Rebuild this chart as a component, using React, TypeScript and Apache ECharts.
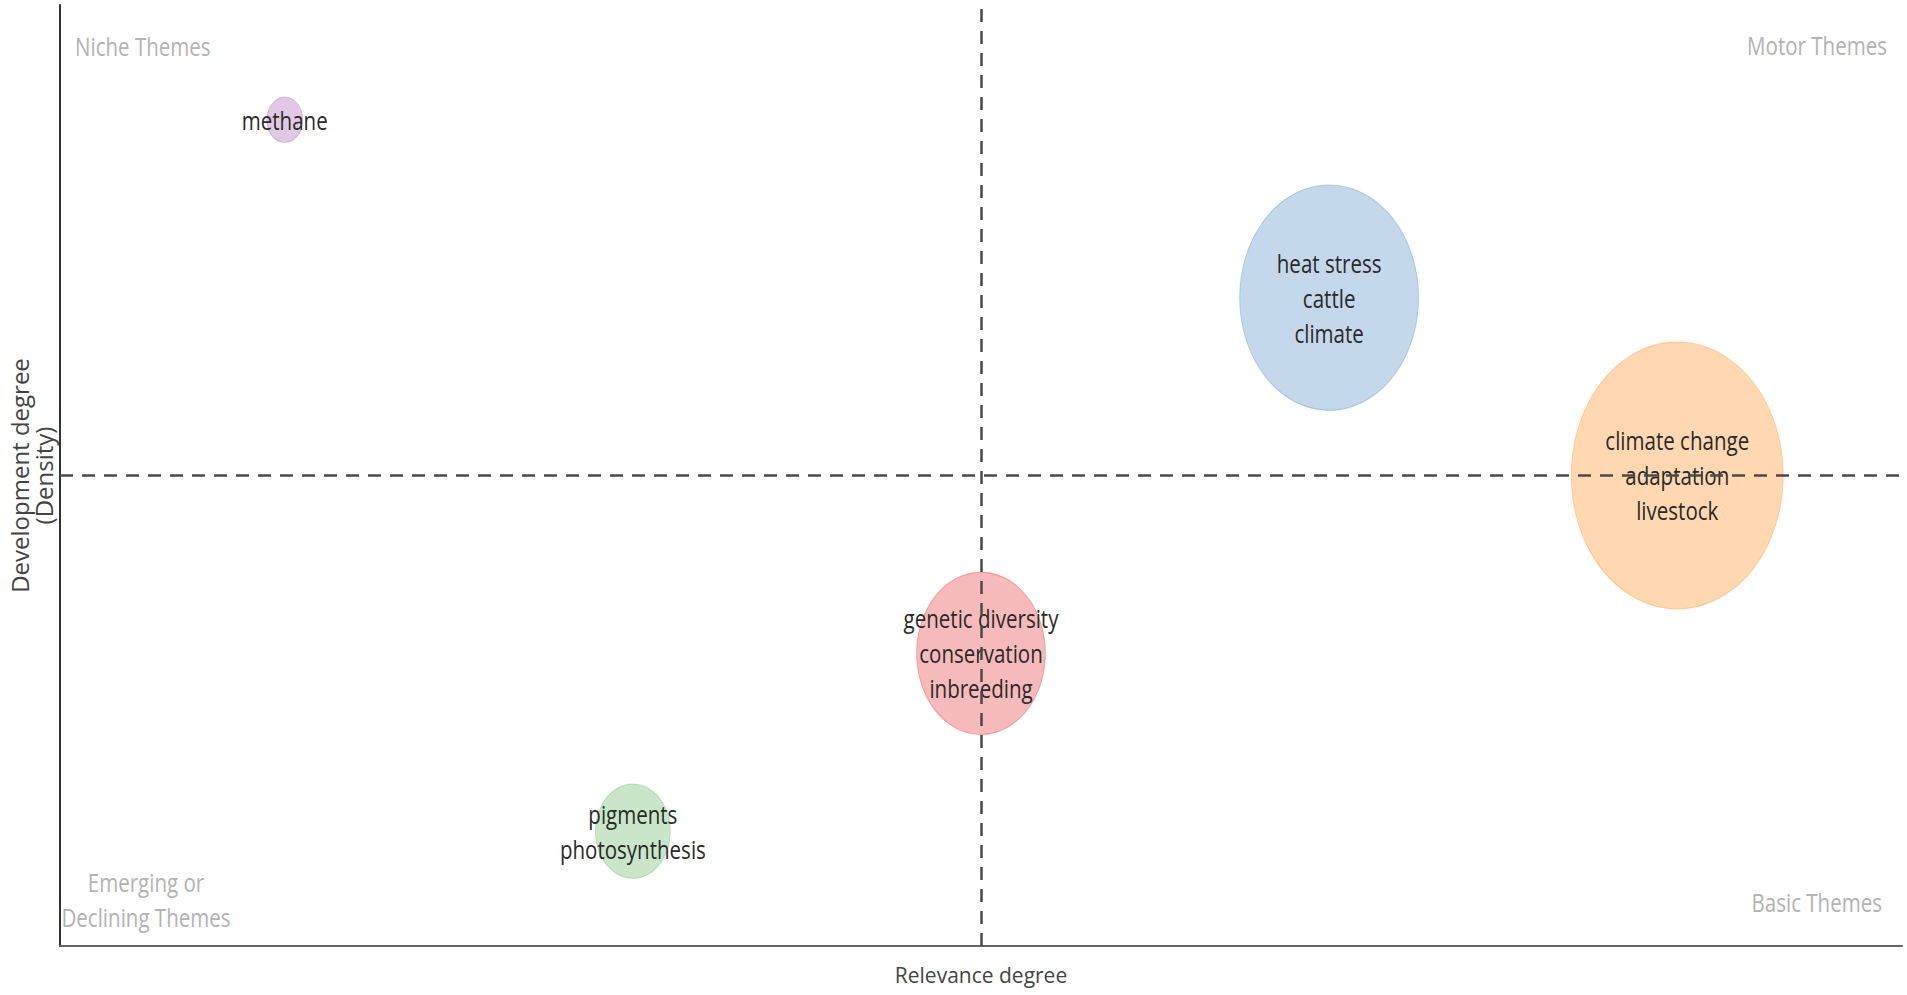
import React, { useEffect, useRef } from "react";
import * as echarts from "echarts";

// ---- data ----
const clusterKeywords: string[][] = [
  ["methane"],
  ["heat stress", "cattle", "climate"],
  ["climate change", "adaptation", "livestock"],
  ["genetic diversity", "conservation", "inbreeding"],
  ["pigments", "photosynthesis"],
];
const centrality: number[] = [0.122, 0.689, 0.878, 0.5, 0.311];
const density: number[] = [0.878, 0.689, 0.5, 0.311, 0.122];
const occurrences: number[] = [13, 320, 449, 166, 56];
const clusterColors: string[] = ["#984EA3", "#377EB8", "#FF7F00", "#E41A1C", "#4DAF4A"];
const centralityMedian = 0.5;
const densityMedian = 0.5;
const quadrantNames = {
  niche: "Niche Themes",
  motor: "Motor Themes",
  emerging: "Emerging or\nDeclining Themes",
  basic: "Basic Themes",
};

const FONT = "Open Sans";
const SQUEEZE = 0.79;

function rgba(hex: string, a: number) {
  const n = parseInt(hex.slice(1), 16);
  return `rgba(${(n >> 16) & 255},${(n >> 8) & 255},${n & 255},${a})`;
}

export default function App() {
  const ref = useRef<HTMLDivElement>(null);
  useEffect(() => {
    if (!ref.current) return;
    const chart = echarts.init(ref.current, null, { renderer: "svg" });
    const points = centrality.map((c, i) => [c, density[i], occurrences[i]]);
    const labelText = clusterKeywords.map((k) => k.join("\n"));

    const quadStyle = {
      fontFamily: FONT,
      fontSize: 26,
      fill: "#b3b3b3",
      lineHeight: 35,
    };

    chart.setOption({
      animation: false,
      backgroundColor: "#ffffff",
      grid: {
        left: 60,
        right: 5,
        top: 5,
        bottom: 49,
        containLabel: false,
        outerBoundsMode: "none",
      },
      xAxis: {
        type: "value",
        min: 0,
        max: 1,
        name: "Relevance degree",
        nameLocation: "middle",
        nameGap: 18,
        nameTextStyle: { fontFamily: FONT, fontSize: 21, color: "#444" },
        axisLine: { show: true, onZero: false, lineStyle: { color: "#666", width: 2 } },
        axisTick: { show: false },
        axisLabel: { show: false },
        splitLine: { show: false },
      },
      yAxis: {
        type: "value",
        min: 0,
        max: 1,
        name: "Development degree\n(Density)",
        nameLocation: "middle",
        nameRotate: 90,
        nameGap: 5,
        nameTextStyle: { fontFamily: FONT, fontSize: 24, lineHeight: 24, color: "#444" },
        axisLine: { show: true, onZero: false, lineStyle: { color: "#333", width: 2 } },
        axisTick: { show: false },
        axisLabel: { show: false },
        splitLine: { show: false },
      },
      graphic: [
        {
          type: "text",
          x: 75,
          y: 46,
          scaleX: SQUEEZE,
          z: 1,
          style: { ...quadStyle, text: quadrantNames.niche, align: "left", verticalAlign: "middle" },
        },
        {
          type: "text",
          x: 1887,
          y: 45,
          scaleX: SQUEEZE,
          z: 1,
          style: { ...quadStyle, text: quadrantNames.motor, align: "right", verticalAlign: "middle" },
        },
        {
          type: "text",
          x: 146,
          y: 900,
          scaleX: SQUEEZE,
          z: 1,
          style: { ...quadStyle, text: quadrantNames.emerging, align: "center", verticalAlign: "middle" },
        },
        {
          type: "text",
          x: 1882,
          y: 902,
          scaleX: SQUEEZE,
          z: 1,
          style: { ...quadStyle, text: quadrantNames.basic, align: "right", verticalAlign: "middle" },
        },
      ],
      series: [
        {
          type: "scatter",
          z: 2,
          data: points.map((p, i) => ({
            value: p,
            itemStyle: {
              color: rgba(clusterColors[i], 0.3),
              borderColor: rgba(clusterColors[i], 0.3),
              borderWidth: 1,
              opacity: 1,
            },
          })),
          symbol: "circle",
          symbolSize: (v: number[]) => {
            const w = 10 * Math.sqrt(v[2]);
            return [w, w * 1.26];
          },
          silent: true,
        },
        {
          type: "custom",
          z: 3,
          data: points,
          renderItem: (params: any, api: any) => {
            const pt = api.coord([api.value(0), api.value(1)]);
            return {
              type: "text",
              x: pt[0],
              y: pt[1],
              scaleX: SQUEEZE,
              style: {
                text: labelText[params.dataIndex],
                fontFamily: FONT,
                fontSize: 26,
                lineHeight: 35,
                fill: "#2a2a2a",
                align: "center",
                verticalAlign: "middle",
              },
            };
          },
          silent: true,
        },
        {
          type: "scatter",
          z: 4,
          data: [],
          silent: true,
          markLine: {
            silent: true,
            symbol: ["none", "none"],
            label: { show: false },
            lineStyle: { color: "#4a4a4a", width: 2.5, type: [13, 9] },
            data: [{ xAxis: centralityMedian }, { yAxis: densityMedian }],
          },
        },
      ],
    });
    return () => chart.dispose();
  }, []);
  return (
    <div
      ref={ref}
      style={{ position: "fixed", left: 0, top: 0, width: 1907, height: 995, background: "#fff" }}
    />
  );
}
